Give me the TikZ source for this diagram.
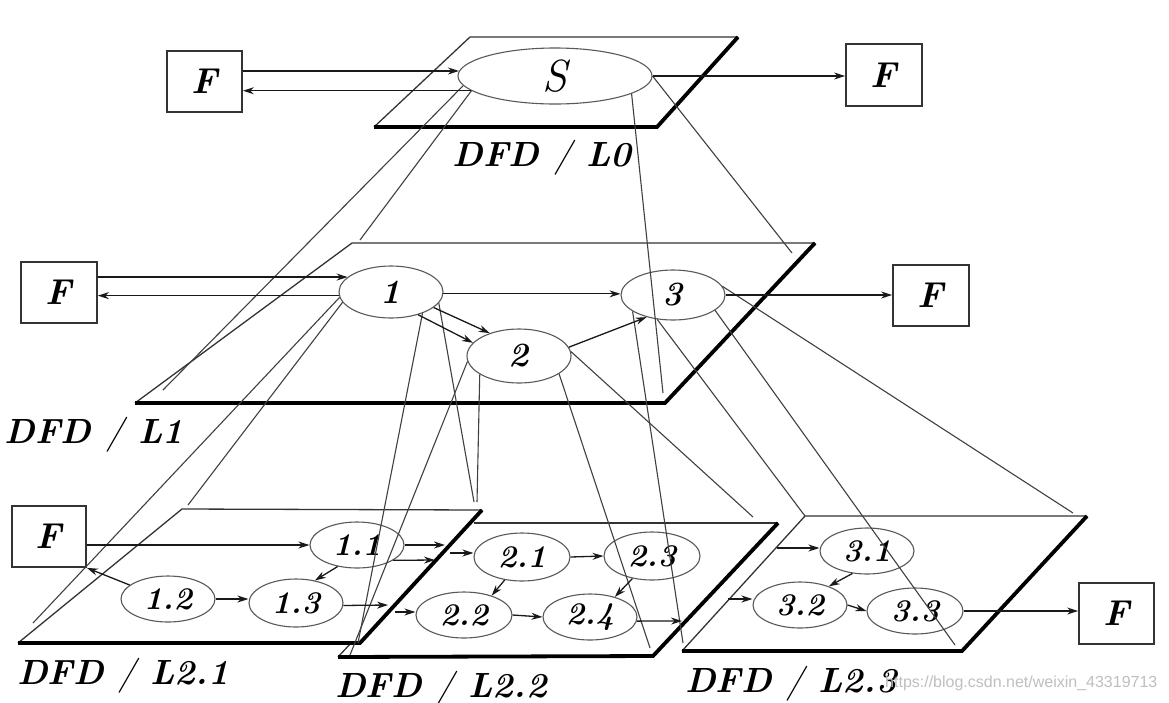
\documentclass[tikz,border=0pt]{standalone}
\usepackage{fontspec}
\setmainfont{Latin Modern Roman}
\newfontfamily\wmfont{Liberation Sans}
\usetikzlibrary{shapes.geometric,arrows.meta}
\begin{document}
\begin{tikzpicture}[x=1pt,y=-1pt,
  thinedge/.style={line width=1.3pt, draw=black!80},
  thickedge/.style={line width=3.8pt, draw=black, line join=miter},
  proj/.style={line width=1.1pt, draw=black!75},
  proc/.style={ellipse, draw=black!65, line width=1.1pt, inner sep=0pt},
  procA/.style={proc, font=\fontsize{34}{36}\selectfont\bfseries\itshape},
  procB/.style={proc, font=\fontsize{31.5}{34}\selectfont\bfseries\itshape},
  box/.style={draw=black!80, line width=1.8pt, inner sep=0pt,
    minimum width=75pt, minimum height=61pt,
    font=\fontsize{36}{40}\selectfont\bfseries\itshape},
  arr/.style={line width=1.3pt, draw=black!90, -{Stealth[length=11pt,width=7pt]}},
  lbl/.style={anchor=base, font=\fontsize{35}{40}\selectfont\bfseries\itshape},
]
\useasboundingbox (0,0) rectangle (1169,702);
\fill[white] (0,0) rectangle (1169,702);

% ---------- planes ----------
% L0
\draw[thinedge] (374,127) -- (470,37) -- (738,37);
\draw[thickedge] (738,37) -- (657,127) -- (374,127);
% L1
\draw[thinedge] (135,403) -- (352,243) -- (815,243);
\draw[thickedge] (815,243) -- (665,403) -- (135,403);
% L2.3
\draw[thinedge] (682,651) -- (805,516) -- (1087,516);
\draw[thickedge] (1087,516) -- (962,651) -- (682,651);
% L2.2
\draw[thinedge] (338,657) -- (351,643);
\draw[thinedge] (474,523) -- (778,523);
\draw[thickedge] (778,523) -- (653,656) -- (338,657);
% L2.1
\draw[thinedge] (18,643) -- (182,509) -- (482,510);
\draw[thickedge] (482,510) -- (360,643) -- (18,643);

% ---------- process nodes ----------
\node[proc, minimum width=194pt, minimum height=56pt,
      font=\fontsize{45}{47}\selectfont\itshape] (S) at (555,76) {S};

\node[procA, minimum width=104pt, minimum height=52pt] (e1) at (391,292) {1};
\node[procA, minimum width=104pt, minimum height=54pt] (e2) at (519,356) {2};
\node[procA, minimum width=104pt, minimum height=50pt] (e3) at (673,295) {3};

\node[procB, minimum width=94pt, minimum height=46pt] (e11) at (357,545) {1.1};
\node[procB, minimum width=94pt, minimum height=46pt] (e12) at (168,599) {1.2};
\node[procB, minimum width=94pt, minimum height=48pt] (e13) at (296,603) {1.3};

\node[procB, minimum width=96pt, minimum height=48pt] (e21) at (522,557) {2.1};
\node[procB, minimum width=96pt, minimum height=46pt] (e22) at (464,615) {2.2};
\node[procB, minimum width=96pt, minimum height=48pt] (e23) at (652,556) {2.3};
\node[procB, minimum width=94pt, minimum height=46pt] (e24) at (590,617) {2.4};

\node[procB, minimum width=94pt, minimum height=46pt] (e31) at (867,551) {3.1};
\node[procB, minimum width=94pt, minimum height=46pt] (e32) at (800,605) {3.2};
\node[procB, minimum width=96pt, minimum height=46pt] (e33) at (915,611) {3.3};

% ---------- external entities ----------
\node[box] (F0L) at (204.5,81.5) {F};
\node[box, minimum width=76pt, minimum height=62pt] (F0R) at (884,75) {F};
\node[box, minimum width=76pt] (F1L) at (59,292.5) {F};
\node[box, minimum width=76pt] (F1R) at (931,295.5) {F};
\node[box, minimum width=74pt] (F2L) at (49,536.5) {F};
\node[box] (F2R) at (1116.5,613.5) {F};

% ---------- projection end points ----------
\coordinate (p01) at (163,390);
\coordinate (p02) at (360,240);
\coordinate (p03) at (792,253);
\coordinate (p04) at (663,393);
\coordinate (p11) at (33,623);
\coordinate (p12) at (188,505);
\coordinate (p13) at (358,643);
\coordinate (p14) at (474,502);
\coordinate (p21) at (350,655);
\coordinate (p22) at (477,502);
\coordinate (p23) at (650,648);
\coordinate (p24) at (753,517);
\coordinate (p31) at (683,643);
\coordinate (p32) at (805,516);
\coordinate (p33) at (955,645);
\coordinate (p34) at (1073,513);

% ---------- projection lines ----------
\draw[proj] (S.186) -- (p01);
\draw[proj] (S.190) -- (p02);
\draw[proj] (S.east) -- (p03);
\draw[proj] (S.-13) -- (p04);
\draw[proj] (e1.186) -- (p11);
\draw[proj] (e1.192) -- (p12);
\draw[proj] (e1.-34) -- (p13);
\draw[proj] (e1.-13) -- (p14);
\draw[proj] (e2.186) -- (p21);
\draw[proj] (e2.205) -- (p22);
\draw[proj] (e2.-24) -- (p23);
\draw[proj] (e2.5) -- (p24);
\draw[proj] (e3.202) -- (p31);
\draw[proj] (e3.237) -- (p32);
\draw[proj] (e3.-20) -- (p33);
\draw[proj] (e3.10) -- (p34);

% ---------- flow free ends ----------
\coordinate (o11a) at (445,545);
\coordinate (o11b) at (435,560);
\coordinate (i21) at (450,553);
\coordinate (o13) at (388,605);
\coordinate (i22) at (395,612);
\coordinate (o24) at (682,621);
\coordinate (i31) at (777,548);
\coordinate (i32) at (728,599);

% ---------- flows: level 0 ----------
\draw[arr] (F0L.east |- S.177) -- (S.177);
\draw[arr] (S.190) -- (F0L.east |- S.190);
\draw[arr] (S.east) -- (F0R.west |- S.east);

% ---------- flows: level 1 ----------
\draw[arr] (F1L.east |- e1.161) -- (e1.161);
\draw[arr] (e1.184) -- (F1L.east |- e1.184);
\draw[arr] (e1.358) -- (e3.west |- e1.358);
\draw[arr] (e1.-20) -- (e2.142);
\draw[arr] (e1.-40) -- (e2.164);
\draw[arr] (e2.10) -- (e3.220);
\draw[arr] (e3.east) -- (F1R.west |- e3.east);

% ---------- flows: level 2.1 ----------
\draw[arr] (F2L.east |- e11.west) -- (e11.west);
\draw[arr] (e12.160) -- (F2L.south east);
\draw[arr] (e12.east) -- (e13.west |- e12.east);
\draw[arr] (e11.228) -- (e13.50);
\draw[arr] (e11.east) -- (o11a);
\draw[arr] (e11.-23) -- (o11b);
\draw[arr] (e13.-3) -- (o13);

% ---------- flows: level 2.2 ----------
\draw[arr] (i21) -- (e21.west |- i21);
\draw[arr] (i22) -- (e22.west |- i22);
\draw[arr] (e21.east) -- (e23.west);
\draw[arr] (e21.233) -- (e22.35);
\draw[arr] (e23.229) -- (e24.39);
\draw[arr] (e22.east) -- (e24.west);
\draw[arr] (e24.-5) -- (o24);

% ---------- flows: level 2.3 ----------
\draw[arr] (i31) -- (e31.west |- i31);
\draw[arr] (i32) -- (e32.west |- i32);
\draw[arr] (e31.237) -- (e32.33);
\draw[arr] (e32.east) -- (e33.west);
\draw[arr] (e33.east) -- (F2R.west |- e33.east);

% ---------- level labels ----------
\node[lbl] (l0) at (542,166) {DFD\ {\mdseries/}\ L0};
\node[lbl] (l1) at (94,443) {DFD\ {\mdseries/}\ L1};
\node[lbl] (l21) at (123,684) {DFD\ {\mdseries/}\ L2.1};
\node[lbl] (l22) at (441,697) {DFD\ {\mdseries/}\ L2.2};
\node[lbl] (l23) at (791,692) {DFD\ {\mdseries/}\ L2.3};

% ---------- watermark ----------
\node[anchor=west, text=black!25, inner sep=0pt,
      font=\wmfont\fontsize{16}{18}\selectfont] (wm) at (885,683)
      {https://blog.csdn.net/weixin\_43319713};
\end{tikzpicture}
\end{document}
